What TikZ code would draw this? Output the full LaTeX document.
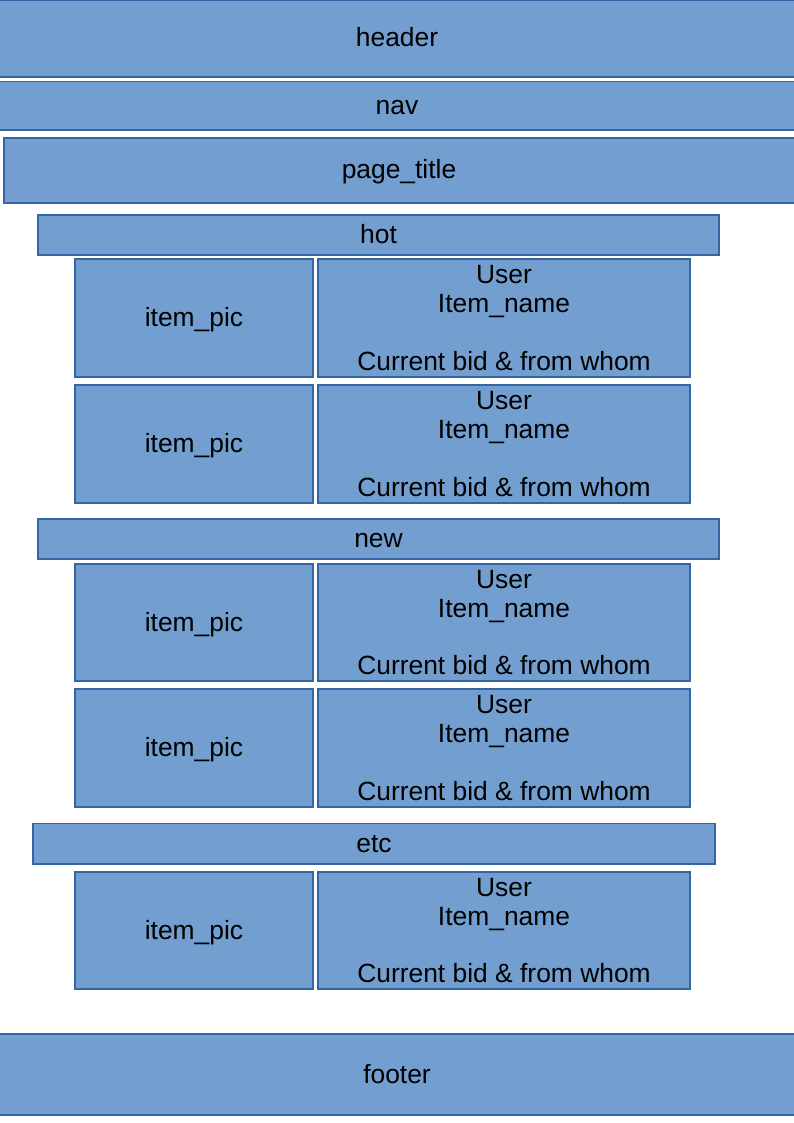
\documentclass[tikz,border=0pt]{standalone}
\usepackage{fontspec}
\setmainfont{Liberation Sans}
\definecolor{boxfill}{HTML}{729FCF}
\definecolor{boxline}{HTML}{3465A4}
\begin{document}
\begin{tikzpicture}[x=1pt,y=-1pt,
  box/.style={draw=boxline, fill=boxfill, line width=1.5pt, inner sep=0pt,
    font=\fontsize{26.4}{28.7}\selectfont, text=black, align=center},
  one/.style={box, text height=22pt, text depth=5pt},
  multi/.style={box, minimum width=372, yshift=0.8pt},
]
\useasboundingbox (0,0) rectangle (794,1123);
\begin{scope}
\clip (0,0) rectangle (794,1123);
% top section
\node[one, minimum width=800, minimum height=77] (header) at (397,38.5) {header};
\node[one, minimum width=800, minimum height=48.5] (nav) at (397,106) {nav};
\node[box, minimum width=796, minimum height=65] (title) at (402,170.5) {};
\node[one, draw=none, fill=none] (titletext) at (399,170.5) {page\_title};
% hot
\node[one, minimum width=681, minimum height=40] (hot) at (378.5,235) {hot};
\node[one, minimum width=238, minimum height=118] (hp1) at (194,318) {item\_pic};
\node[box, minimum width=372, minimum height=118] (hd1) at (504,318) {User\\Item\_name\\\mbox{}\\Current bid \& from whom};
\node[one, minimum width=238, minimum height=118] (hp2) at (194,444) {item\_pic};
\node[box, minimum width=372, minimum height=118] (hd2) at (504,444) {User\\Item\_name\\\mbox{}\\Current bid \& from whom};
% new
\node[one, minimum width=681, minimum height=40] (new) at (378.5,539) {new};
\node[one, minimum width=238, minimum height=117] (np1) at (194,622.5) {item\_pic};
\node[box, minimum width=372, minimum height=117] (nd1) at (504,622.5) {User\\Item\_name\\\mbox{}\\Current bid \& from whom};
\node[one, minimum width=238, minimum height=118] (np2) at (194,748) {item\_pic};
\node[box, minimum width=372, minimum height=118] (nd2) at (504,748) {User\\Item\_name\\\mbox{}\\Current bid \& from whom};
% etc
\node[one, minimum width=682, minimum height=40.5] (etc) at (374,843.5) {etc};
\node[one, minimum width=238, minimum height=117] (ep1) at (194,930.5) {item\_pic};
\node[box, minimum width=372, minimum height=117] (ed1) at (504,930.5) {User\\Item\_name\\\mbox{}\\Current bid \& from whom};
% footer
\node[one, minimum width=800, minimum height=81] (footer) at (397,1074.5) {footer};
\end{scope}
\end{tikzpicture}
\end{document}
